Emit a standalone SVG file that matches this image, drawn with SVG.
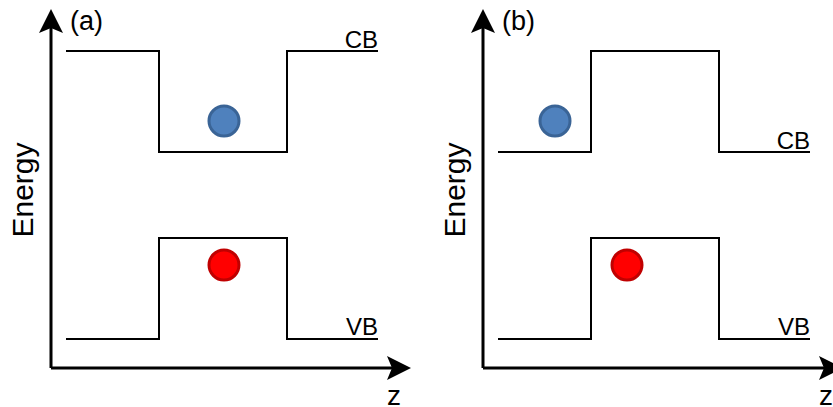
<svg xmlns="http://www.w3.org/2000/svg" width="833" height="407" viewBox="0 0 833 407">
<defs>
<style>
.axis{stroke:#000;stroke-width:3;fill:none}
.band{stroke:#000;stroke-width:2;fill:none}
.arrow{fill:#000;stroke:none}
.t{font-family:"Liberation Sans",Arial,sans-serif;fill:#000}
.e{fill:#4F81BD;stroke:#3A6496;stroke-width:3}
.h{fill:#FF0000;stroke:#C00000;stroke-width:3}
</style>
</defs>
<rect width="833" height="407" fill="#fff"/>
<g id="panel-a">
  <g id="axes-a">
    <path class="axis" d="M51,368 V25 M51,368 H395"/>
    <path class="arrow" d="M51,9 L63,33 L51,28 L39,33 Z"/>
    <path class="arrow" d="M411,368 L387,356 L392,368 L387,380 Z"/>
  </g>
  <g id="cb-a"><path class="band" d="M66,51 H159 V152 H287 V51 H378"/></g>
  <g id="vb-a"><path class="band" d="M66,339 H159 V238 H287 V339 H378"/></g>
  <g id="electron-a"><circle class="e" cx="224" cy="121" r="15"/></g>
  <g id="hole-a"><circle class="h" cx="224" cy="265" r="15"/></g>
  <text class="t" x="70" y="30" font-size="27">(a)</text>
  <text class="t" x="378" y="48" font-size="24" text-anchor="end">CB</text>
  <text class="t" x="378" y="335" font-size="24" text-anchor="end">VB</text>
  <text class="t" x="33" y="190" font-size="30" text-anchor="middle" transform="rotate(-90 33 190)">Energy</text>
  <text class="t" x="394" y="405" font-size="28" text-anchor="middle">z</text>
</g>
<g id="panel-b">
  <g id="axes-b">
    <path class="axis" d="M483,368 V25 M483,368 H827"/>
    <path class="arrow" d="M483,9 L495,33 L483,28 L471,33 Z"/>
    <path class="arrow" d="M843,368 L819,356 L824,368 L819,380 Z"/>
  </g>
  <g id="cb-b"><path class="band" d="M498,152 H591 V51 H719 V152 H810"/></g>
  <g id="vb-b"><path class="band" d="M498,339 H591 V238 H719 V339 H810"/></g>
  <g id="electron-b"><circle class="e" cx="555" cy="121" r="15"/></g>
  <g id="hole-b"><circle class="h" cx="627" cy="265" r="15"/></g>
  <text class="t" x="502" y="30" font-size="27">(b)</text>
  <text class="t" x="810" y="149" font-size="24" text-anchor="end">CB</text>
  <text class="t" x="810" y="335" font-size="24" text-anchor="end">VB</text>
  <text class="t" x="465" y="190" font-size="30" text-anchor="middle" transform="rotate(-90 465 190)">Energy</text>
  <text class="t" x="826" y="405" font-size="28" text-anchor="middle">z</text>
</g>
</svg>
